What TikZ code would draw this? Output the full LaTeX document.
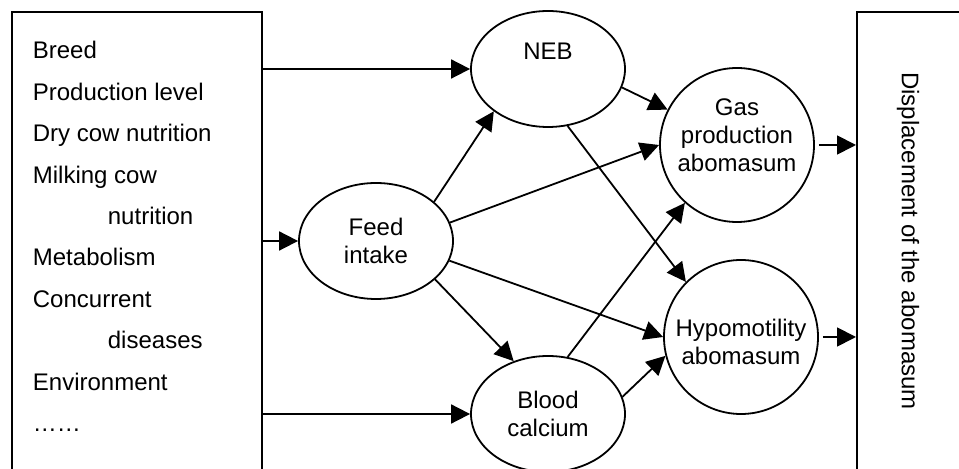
\documentclass[tikz,border=0pt]{standalone}
\usepackage{fontspec}
\setmainfont{Liberation Sans}
\usetikzlibrary{arrows.meta,shapes.geometric}
\newcommand{\lift}[2]{\raisebox{#1}[\height][\depth]{\begin{tabular}{@{}c@{}}#2\end{tabular}}}
\begin{document}
\begin{tikzpicture}[x=0.5pt,y=-0.5pt,line width=0.9pt,
  every node/.style={font=\fontsize{12}{14}\selectfont},
  oval/.style={draw,ellipse,inner sep=0pt,minimum width=77pt,minimum height=58pt,align=center},
  ball/.style={draw,circle,inner sep=0pt,minimum size=77pt,align=center},
  item/.style={anchor=base west,inner sep=0pt},
  >={Triangle[length=9.5pt,width=9.5pt]}]
\useasboundingbox (0,0) rectangle (959,469);
\node[draw,anchor=north west,minimum width=125pt,minimum height=250pt] (causes) at (11,11) {};
\node[draw,anchor=north west,minimum width=100pt,minimum height=250pt] (dsp) at (856,11) {};
\node[rotate=-90] (dsptext) at (908,241) {Displacement of the abomasum};
\foreach \t/\x/\y [count=\i] in {Breed/32/59, Production level/32/100.5, Dry cow nutrition/32/142,
  Milking cow/32/183.5, nutrition/107/225, Metabolism/32/266, Concurrent/32/307.5,
  diseases/107/349, Environment/32/390.5, ……/32/432}
  \node[item] (c\i) at (\x,\y) {\t};
\node[oval] (feed) at (376,241) {Feed\\intake};
\node[oval] (neb) at (548,69) {\lift{7.5pt}{NEB}};
\node[oval] (blood) at (548,414) {Blood\\calcium};
\node[ball] (gas) at (737,145) {\lift{3.5pt}{Gas\\production\\abomasum}};
\node[ball] (hypo) at (741,337) {\lift{-4pt}{Hypomotility\\abomasum}};
\draw[->] (causes.east |- neb) -- (neb);
\draw[->] (causes.east |- feed) -- (feed);
\draw[->] (causes.east |- blood) -- (blood);
\draw[->] (feed.34) -- (neb.218);
\draw[->] (feed.14) -- (gas.180);
\draw[->] (feed.-15) -- (hypo.180);
\draw[->] (feed.-33) -- (blood.123);
\draw[->] (neb.-14) -- (gas.153);
\draw[->] (neb.-71) -- (hypo.135);
\draw[->] (blood.71) -- (gas.228);
\draw[->] (blood.13) -- (hypo.194);
\draw[->] ([xshift=2pt]gas.east) -- (gas -| dsp.west);
\draw[->] ([xshift=2pt]hypo.east) -- (hypo -| dsp.west);
\end{tikzpicture}
\end{document}
